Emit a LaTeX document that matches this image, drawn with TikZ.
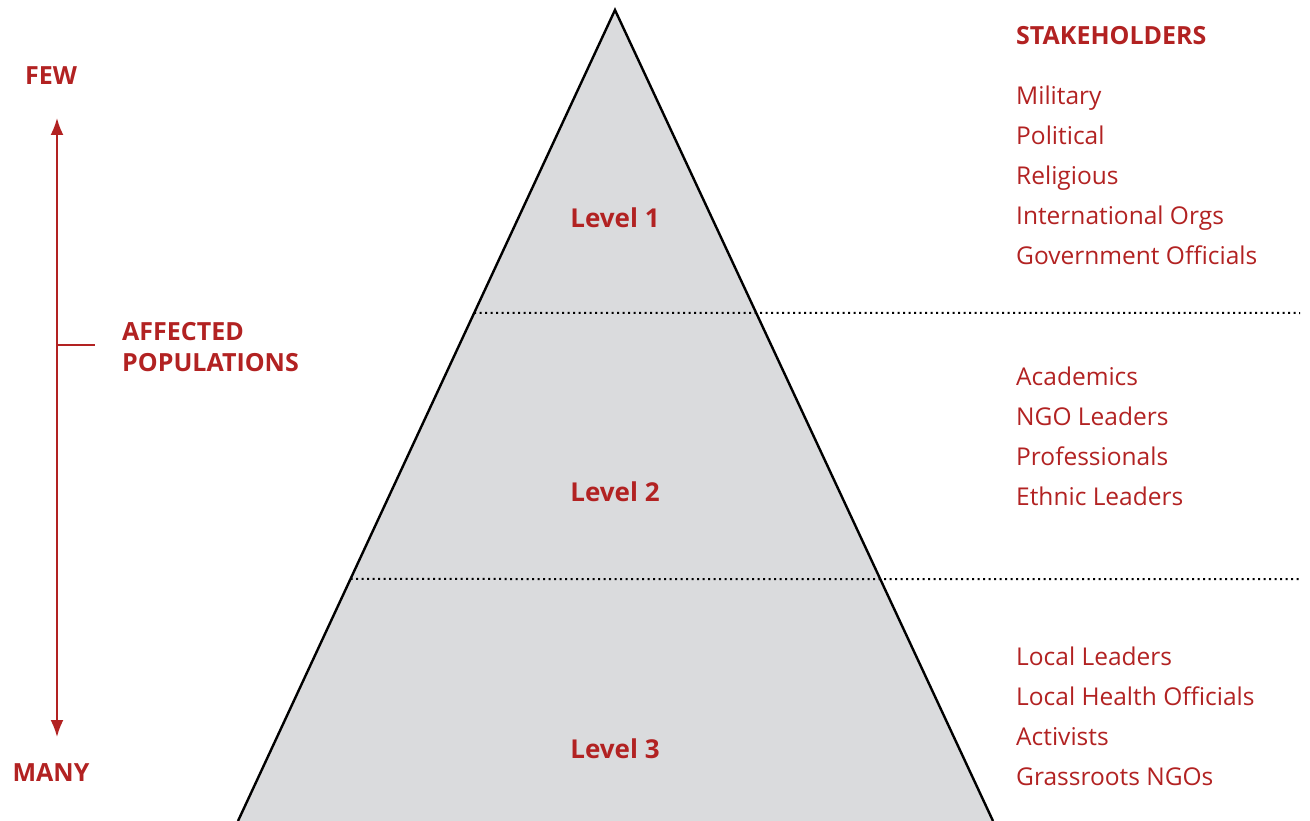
\documentclass[tikz,border=0pt]{standalone}
\usepackage{fontspec}
\setmainfont{Open Sans}
\usetikzlibrary{arrows.meta,calc}
\definecolor{stkred}{RGB}{178,34,34}
\definecolor{pyrgray}{RGB}{218,219,221}
\tikzset{
  head/.style={text=stkred, font=\fontsize{25}{30}\selectfont\bfseries, inner sep=0pt},
  item/.style={text=stkred, font=\fontsize{24.5}{28}\selectfont, anchor=base west, inner sep=0pt},
  level/.style={text=stkred, font=\fontsize{26}{30}\selectfont\bfseries, inner sep=0pt},
  sep/.style={line width=2pt, dash pattern=on 2pt off 3.5pt},
}
\begin{document}
\begin{tikzpicture}[x=1pt, y=-1pt]
\useasboundingbox (0,0) rectangle (1310,821);
% pyramid
\coordinate (apex) at (615,10);
\coordinate (bl) at (238,821);
\coordinate (br) at (993,821);
\fill[pyrgray] (apex) -- (bl) -- (br) -- cycle;
\draw[line width=2.4pt] (bl) -- (apex) -- (br);
\coordinate (cut1) at ($(apex)!0.3736!(bl)$);
\coordinate (cut2) at ($(apex)!0.7016!(bl)$);
\coordinate (end1) at (1300,313);
\coordinate (end2) at (1300,579);
\draw[sep] (cut1) -- (end1);
\draw[sep] (cut2) -- (end2);
\node[level] (lev1) at (615,218) {Level 1};
\node[level] (lev2) at (615,492) {Level 2};
\node[level] (lev3) at (615,749) {Level 3};
% left scale
\node[head] (few) at (51,76) {FEW};
\node[head] (many) at (51,773) {MANY};
\coordinate (top) at (57,118);
\coordinate (bot) at (57,737);
\draw[stkred, line width=2pt, {Latex[length=17pt,width=13pt]}-{Latex[length=17pt,width=13pt]}] (top) -- (bot);
\coordinate (tick) at (57,345);
\node[head, anchor=west, align=left] (aff) at (122,347) {AFFECTED\\[1pt]POPULATIONS};
\draw[stkred, line width=2pt] (tick) -- ++(38,0);
% stakeholders
\node[head, anchor=base west] (stk) at (1016,45) {STAKEHOLDERS};
\foreach \txt [count=\i] in {Military, Political, Religious, International Orgs, Government Officials}
  \node[item] (one-\i) at (1016,65+40*\i) {\txt};
\foreach \txt [count=\i] in {Academics, NGO Leaders, Professionals, Ethnic Leaders}
  \node[item] (two-\i) at (1016,345+40*\i) {\txt};
\foreach \txt [count=\i] in {Local Leaders, Local Health Officials, Activists, Grassroots NGOs}
  \node[item] (three-\i) at (1016,625+40*\i) {\txt};
\end{tikzpicture}
\end{document}
